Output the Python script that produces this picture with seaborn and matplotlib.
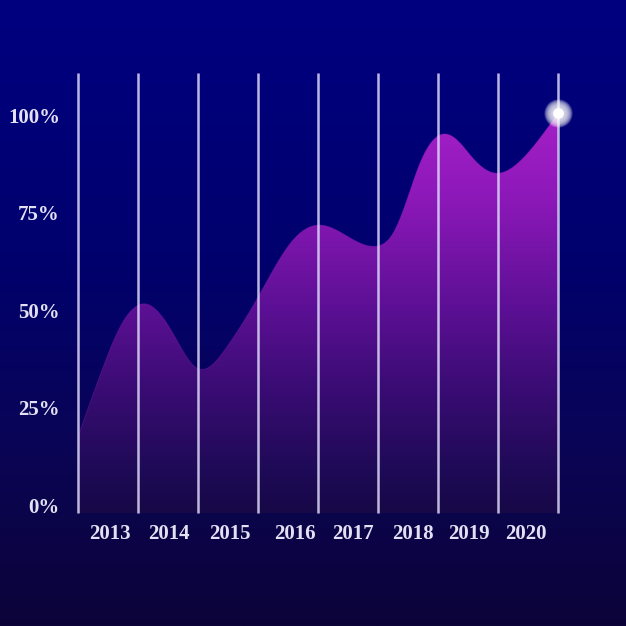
import numpy as np
import seaborn as sns
import matplotlib.pyplot as plt
from matplotlib.colors import LinearSegmentedColormap

# values (x = grid line index, y = percent)
curve_x = [0, 0.42, 0.70, 1.15, 1.58, 1.98, 2.48, 3.0, 3.58, 4.03, 4.37, 4.98,
           5.25, 5.48, 5.70, 6.07, 6.32, 6.58, 6.98, 7.25, 7.58, 8.0]
curve_y = [17.5, 35.4, 45.6, 51.5, 44.1, 35.1, 40.5, 53.3, 67.9, 71.8, 70.0, 66.4,
           69.7, 78.2, 87.7, 95.1, 93.6, 89.0, 85.1, 86.7, 91.8, 100.5]
grid_lines = [0, 1, 2, 3, 4, 5, 6, 7, 8]
years = ["2013", "2014", "2015", "2016", "2017", "2018", "2019", "2020"]
year_pos = [0.53, 1.52, 2.53, 3.62, 4.58, 5.58, 6.52, 7.47]
pct_ticks = [0, 25, 50, 75, 100]
pct_labels = ["0%", "25%", "50%", "75%", "100%"]


def spline(x, y, xs):
    # natural cubic spline for the smooth outline
    x = np.asarray(x, float)
    y = np.asarray(y, float)
    n = len(x)
    h = np.diff(x)
    A = np.zeros((n, n))
    b = np.zeros(n)
    A[0, 0] = A[-1, -1] = 1
    for i in range(1, n - 1):
        A[i, i - 1] = h[i - 1]
        A[i, i] = 2 * (h[i - 1] + h[i])
        A[i, i + 1] = h[i]
        b[i] = 6 * ((y[i + 1] - y[i]) / h[i] - (y[i] - y[i - 1]) / h[i - 1])
    M = np.linalg.solve(A, b)
    k = np.clip(np.searchsorted(x, xs) - 1, 0, n - 2)
    t1 = x[k + 1] - xs
    t0 = xs - x[k]
    hk = h[k]
    return (M[k] * t1**3 / (6 * hk) + M[k + 1] * t0**3 / (6 * hk)
            + (y[k] / hk - M[k] * hk / 6) * t1 + (y[k + 1] / hk - M[k + 1] * hk / 6) * t0)


sns.set_theme(style="white")
plt.rcParams["font.family"] = ["Liberation Serif", "DejaVu Serif"]

fig = plt.figure(figsize=(6.26, 6.26), dpi=100)

# background gradient
bg = fig.add_axes([0, 0, 1, 1])
bg_cmap = LinearSegmentedColormap.from_list(
    "bg", [(0, "#0c0338"), (0.28, "#0a0555"), (0.6, "#00006e"), (1, "#000080")])
bg.imshow(np.linspace(0, 1, 256).reshape(-1, 1), aspect="auto", cmap=bg_cmap,
          origin="lower", extent=[0, 1, 0, 1])
bg.axis("off")

ax = fig.add_axes([78 / 626, 113 / 626, 480 / 626, 440 / 626])
ax.set_facecolor("none")
ymin, ymax = -2.05, 110.8
ax.set_xlim(0, 8)
ax.set_ylim(ymin, ymax)

xs = np.linspace(0, 8, 800)
ys = spline(curve_x, curve_y, xs)

fill_cmap = LinearSegmentedColormap.from_list(
    "fill", [(0, "#170848"), (0.1, "#1e0a56"), (0.3, "#3a0c74"), (0.5, "#5e1096"),
             (0.75, "#8c18b8"), (1, "#aa22cc")])
poly = ax.fill_between(xs, ymin, ys, color="none", lw=0)
grad = ax.imshow(np.linspace(0, 1, 256).reshape(-1, 1), aspect="auto", cmap=fill_cmap,
                 origin="lower", extent=[0, 8, ymin, 105])
grad.set_clip_path(poly.get_paths()[0], transform=ax.transData)
sns.lineplot(x=xs, y=ys, ax=ax, color="#8a1ab8", lw=0.6, alpha=0.4)

ax.vlines(grid_lines, ymin, ymax, color="#dcd8f8", lw=1.8, alpha=0.85, clip_on=False, zorder=3)

# glowing end point
for s in np.linspace(420, 60, 14):
    ax.scatter([curve_x[-1]], [curve_y[-1]], s=s, color="white", alpha=0.13, lw=0,
               zorder=5, clip_on=False)
ax.scatter([curve_x[-1]], [curve_y[-1]], s=60, color="white", lw=0, zorder=6, clip_on=False)

ax.set_xticks(year_pos, years)
ax.set_yticks(pct_ticks, pct_labels)
ax.tick_params(axis="x", length=0, pad=8, labelsize=15, labelcolor="#e2e0f2")
ax.tick_params(axis="y", length=0, pad=13, labelsize=15, labelcolor="#e2e0f2")
for lab in ax.get_xticklabels() + ax.get_yticklabels():
    lab.set_fontweight("bold")
sns.despine(ax=ax, left=True, bottom=True)
ax.grid(False)

fig.savefig("out.png", dpi=100)
